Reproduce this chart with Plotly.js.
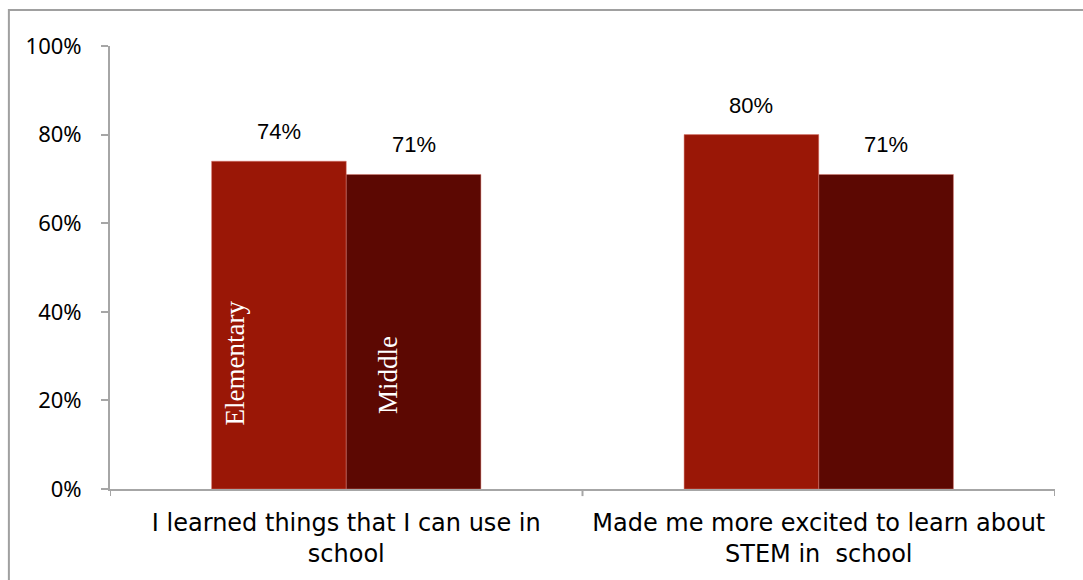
<!DOCTYPE html>
<html>
<head>
<meta charset="utf-8">
<script src="https://cdn.plot.ly/plotly-3.0.1.min.js"></script>
<style>
  html, body { margin: 0; padding: 0; background: #fff; }
  #chart { width: 1083px; height: 580px; }
</style>
</head>
<body>
<div id="chart"></div>
<script>
const categories = [
  "I learned things that I can use in<br>school",
  "Made me more excited to learn about<br>STEM in  school"
];
const seriesNames = ["Elementary", "Middle"];
const elementary = [0.74, 0.80];
const middle = [0.71, 0.71];
const yTickVals = [0, 0.2, 0.4, 0.6, 0.8, 1.0];
const yTickText = ["0%", "20%", "40%", "60%", "80%", "100%"];

const colors = ["#9a1706", "#5c0802"];
const series = [elementary, middle];
const bargap = 0.43;
const barW = (1 - bargap) / 2;

const traces = series.map((vals, i) => ({
  type: "bar",
  name: seriesNames[i],
  x: categories.map((c, j) => j),
  y: vals,
  marker: { color: colors[i], line: { color: "rgba(220,120,110,0.6)", width: 0.8 } },
  hoverinfo: "skip"
}));

const annotations = [];
series.forEach((vals, i) => {
  vals.forEach((v, j) => {
    annotations.push({
      xref: "x", yref: "y",
      x: j + (i - 0.5) * barW, y: v,
      text: Math.round(v * 100) + "%",
      showarrow: false, yanchor: "bottom", yshift: 15,
      font: { family: "Liberation Sans, Arial, sans-serif", size: 22, color: "#000" }
    });
  });
});
// in-bar series labels (rotated)
annotations.push({
  xref: "x", yref: "y", x: -0.235, y: 0.284, text: seriesNames[0],
  textangle: -90, showarrow: false,
  font: { family: "Liberation Serif, Times New Roman, serif", size: 27, color: "#fff" }
});
annotations.push({
  xref: "x", yref: "y", x: 0.088, y: 0.257, text: seriesNames[1],
  textangle: -90, showarrow: false,
  font: { family: "Liberation Serif, Times New Roman, serif", size: 27, color: "#fff" }
});

const layout = {
  width: 1083, height: 580,
  margin: { l: 110, r: 28, t: 46, b: 91 },
  paper_bgcolor: "#fff", plot_bgcolor: "#fff",
  barmode: "group", bargap: bargap, bargroupgap: 0,
  showlegend: false,
  xaxis: {
    type: "linear", range: [-0.5, 1.5],
    tickvals: [0, 1], ticktext: categories,
    showline: true, linecolor: "#a6a6a6", linewidth: 2,
    ticks: "", showgrid: false, zeroline: false,
    tickfont: { family: "DejaVu Sans, sans-serif", size: 24, color: "#000" },
    ticklabelstandoff: 11
  },
  yaxis: {
    range: [0, 1], tickvals: yTickVals, ticktext: yTickText,
    showline: true, linecolor: "#a6a6a6", linewidth: 2,
    ticks: "outside", ticklen: 7, tickcolor: "#a6a6a6", tickwidth: 2,
    showgrid: false, zeroline: false,
    tickfont: { family: "Noto Sans, DejaVu Sans, sans-serif", size: 22, color: "#000" },
    ticklabelstandoff: 15
  },
  annotations: annotations,
  shapes: [
    // category boundary ticks on x axis
    ...[-0.5, 0.5, 1.5].map(xv => ({
      type: "line", xref: "x", yref: "paper", x0: xv, x1: xv, y0: 0, y1: -0.016,
      line: { color: "#a6a6a6", width: 2 }
    })),
    // outer chart border
    { type: "rect", xref: "paper", yref: "paper", x0: -0.107, x1: 1.2, y0: -0.3, y1: 1.0815,
      line: { color: "#a0a0a0", width: 2 }, fillcolor: "rgba(0,0,0,0)", layer: "below" }
  ]
};

Plotly.newPlot("chart", traces, layout, { displayModeBar: false, staticPlot: true });
</script>
</body>
</html>
